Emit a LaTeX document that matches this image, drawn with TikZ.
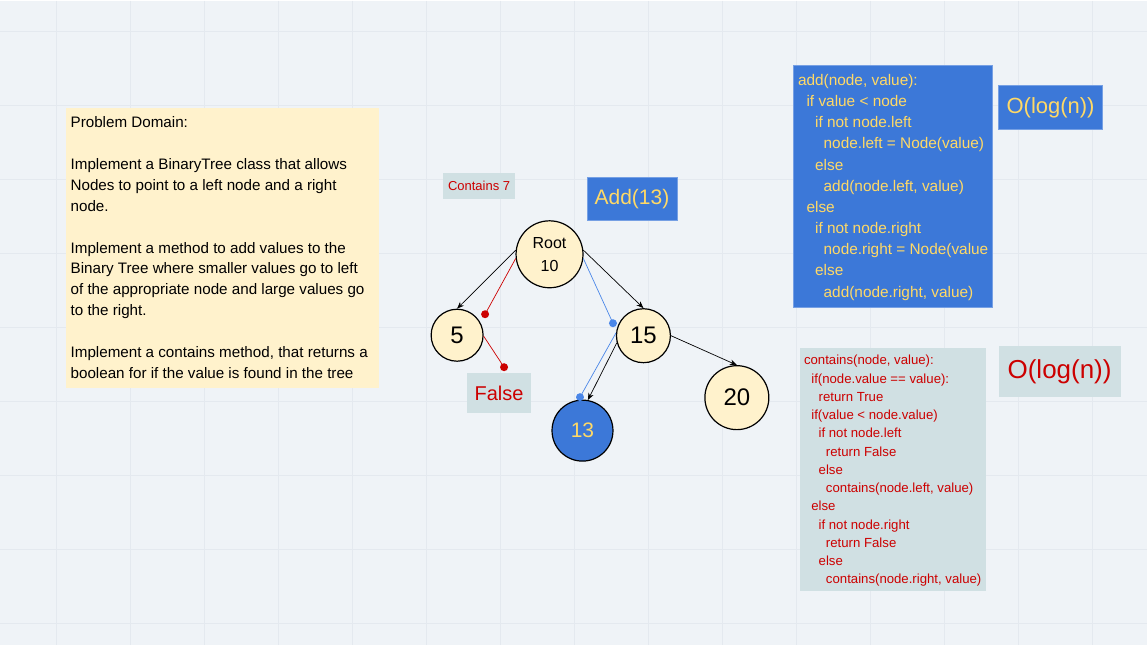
\documentclass[tikz,border=0pt]{standalone}
\usepackage{fontspec}
\setmainfont{Liberation Sans}
\usetikzlibrary{arrows.meta}
\definecolor{canvas}{HTML}{EFF3F7}
\definecolor{gridline}{HTML}{E4E9EF}
\definecolor{paleyellow}{HTML}{FFF2CC}
\definecolor{boxblue}{HTML}{3C78D8}
\definecolor{textyellow}{HTML}{FFD966}
\definecolor{boxgrey}{HTML}{D0E0E3}
\definecolor{textred}{HTML}{CC0000}
\definecolor{pathblue}{HTML}{4A86E8}
\newcommand\ind[1]{\hspace*{#1\fontdimen2\font}}
\newcommand\fsz[2]{\fontsize{#1}{#2}\selectfont}

\begin{document}
\begin{tikzpicture}[x=1pt,y=-1pt,
    treenode/.style={circle,draw=black,line width=1.2pt,fill=paleyellow,inner sep=0pt,align=center},
    link/.style={line width=0.7pt,-{Stealth[length=7pt,width=5.5pt]}},
    redpath/.style={line width=0.7pt,draw=textred},
    bluepath/.style={line width=0.7pt,draw=pathblue},
    greybox/.style={fill=boxgrey,text=textred,inner sep=0pt},
    bluebox/.style={fill=boxblue,draw=boxblue!70!white,line width=0.8pt,text=textyellow,inner sep=0pt},
    code/.style={anchor=north west,inner sep=0pt,align=left}]

    %%% BACKGROUND %%%
    \fill[canvas] (0,0) rectangle (1147,645);
    \foreach \gx in {0,...,14}
        \draw[gridline,line width=1pt] ({55.7+74.1*\gx},0)--({55.7+74.1*\gx},645);
    \foreach \gy in {0,...,8}
        \draw[gridline,line width=1pt] (0,{31+74.1*\gy})--(1147,{31+74.1*\gy});

    %%% PROBLEM DOMAIN %%%
    \fill[paleyellow] (66,108) rectangle (379,388);
    \node[code,font=\fsz{15.2}{21}] (domain) at (70,115.5) {Problem Domain:\\[21pt]
        Implement a BinaryTree class that allows\\
        Nodes to point to a left node and a right\\
        node.\\[21pt]
        Implement a method to add values to the\\
        Binary Tree where smaller values go to left\\
        of the appropriate node and large values go\\
        to the right.\\[21pt]
        Implement a contains method, that returns a\\
        boolean for if the value is found in the tree};

    %%% TREE %%%
    \node[treenode,minimum size=67pt,font=\fsz{16}{23}] (root) at (549.5,254) {Root\\10};
    \node[treenode,minimum size=52pt,font=\fsz{24}{28}] (five) at (457,335) {5};
    \node[treenode,minimum size=54pt,font=\fsz{24}{28}] (fifteen) at (643.5,335.5) {15};
    \node[treenode,minimum size=64pt,font=\fsz{24}{28}] (twenty) at (737,397.5) {20};
    \node[treenode,fill=boxblue,text=textyellow,minimum size=61pt,font=\fsz{21}{25}] (thirteen) at (582.5,430.5) {13};

    \draw[link] (root.173)--(five.north);
    \draw[link] (root.7)--(fifteen.north);
    \draw[link] (fifteen.195)--(thirteen.80);
    \draw[link] (fifteen.east)--(twenty.north);

    %%% CONTAINS 7 PATH %%%
    \coordinate (rdot1) at (485,314);
    \coordinate (rdot2) at (504,367);
    \draw[redpath] (root.187)--(rdot1);
    \draw[redpath] (five.358)--(rdot2);
    \fill[textred] (rdot1) circle (4pt);
    \fill[textred] (rdot2) circle (4pt);

    %%% ADD 13 PATH %%%
    \coordinate (bdot1) at (613,323);
    \coordinate (bdot2) at (580,397);
    \draw[bluepath] (root.353)--(bdot1);
    \draw[bluepath] (fifteen.174)--(bdot2);
    \fill[pathblue] (bdot1) circle (4pt);
    \fill[pathblue] (bdot2) circle (4pt);

    %%% LABELS %%%
    \node[greybox,minimum width=72pt,minimum height=26pt,font=\fsz{13}{16}] (containslabel) at (479,186) {Contains 7};
    \node[bluebox,minimum width=90pt,minimum height=43pt,font=\fsz{21}{25}] (addlabel) at (632,198.5) {Add(13)};
    \node[greybox,minimum width=64pt,minimum height=40pt,font=\fsz{20}{24}] (falselabel) at (499,393) {False};

    %%% ADD CODE %%%
    \fill[boxblue] (794,65) rectangle (993,307);
    \draw[boxblue!70!white,line width=0.8pt] (794,65) rectangle (993,307);
    \node[code,text=textyellow,font=\fsz{15.4}{21.2}] (addcode) at (798,73.5) {add(node, value):\\
        \ind{2}if value < node\\
        \ind{4}if not node.left\\
        \ind{6}node.left = Node(value)\\
        \ind{4}else\\
        \ind{6}add(node.left, value)\\
        \ind{2}else\\
        \ind{4}if not node.right\\
        \ind{6}node.right = Node(value\\
        \ind{4}else\\
        \ind{6}add(node.right, value)};
    \node[bluebox,minimum width=104pt,minimum height=44pt,font=\fsz{22}{26}] (addcost) at (1051,107) {O(log(n))};

    %%% CONTAINS CODE %%%
    \fill[boxgrey] (800,348) rectangle (986,591);
    \node[code,text=textred,font=\fsz{13.2}{18.25}] (containscode) at (804,355) {contains(node, value):\\
        \ind{2}if(node.value == value):\\
        \ind{4}return True\\
        \ind{2}if(value < node.value)\\
        \ind{4}if not node.left\\
        \ind{6}return False\\
        \ind{4}else\\
        \ind{6}contains(node.left, value)\\
        \ind{2}else\\
        \ind{4}if not node.right\\
        \ind{6}return False\\
        \ind{4}else\\
        \ind{6}contains(node.right, value)};
    \node[greybox,minimum width=122pt,minimum height=51pt,font=\fsz{26}{30}] (containscost) at (1060,371.5) {O(log(n))};
\end{tikzpicture}
\end{document}
